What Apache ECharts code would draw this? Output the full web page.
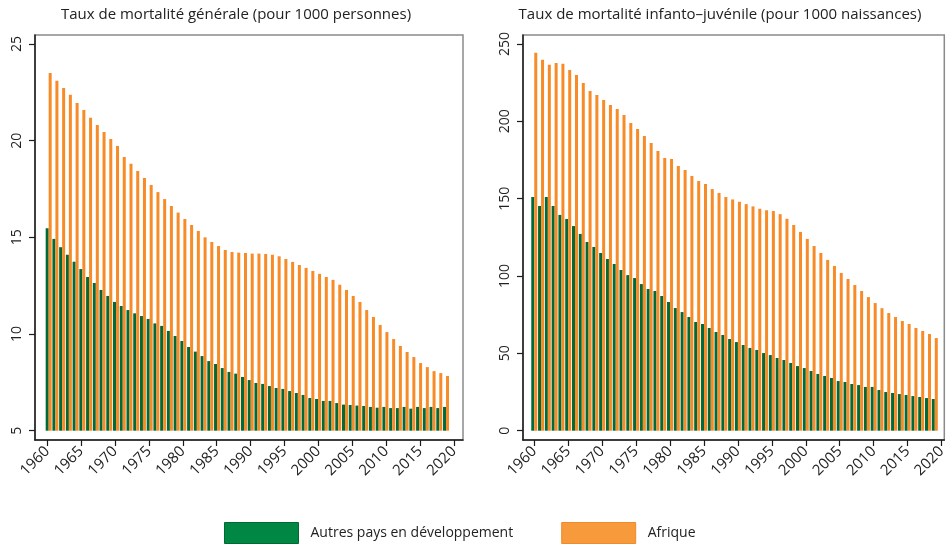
<!DOCTYPE html>
<html>
<head>
<meta charset="utf-8">
<script src="https://cdn.jsdelivr.net/npm/echarts@6/dist/echarts.min.js"></script>
<style>
  html, body { margin: 0; padding: 0; background: #fff; }
  #chart { width: 949px; height: 544px; }
</style>
</head>
<body>
<div id="chart"></div>
<script>
// années 1960-2019
var years = [1960,1961,1962,1963,1964,1965,1966,1967,1968,1969,
             1970,1971,1972,1973,1974,1975,1976,1977,1978,1979,
             1980,1981,1982,1983,1984,1985,1986,1987,1988,1989,
             1990,1991,1992,1993,1994,1995,1996,1997,1998,1999,
             2000,2001,2002,2003,2004,2005,2006,2007,2008,2009,
             2010,2011,2012,2013,2014,2015,2016,2017,2018,2019];
var yearTicks = [1960,1965,1970,1975,1980,1985,1990,1995,2000,2005,2010,2015,2020];
var ticksGen = [5,10,15,20,25];
var ticksInf = [0,50,100,150,200,250];

// Taux de mortalité générale (pour 1000 personnes)
var genAutres = [15.47,14.92,14.49,14.1,13.74,13.36,12.95,12.64,12.28,11.97,
                 11.66,11.45,11.24,11.07,10.93,10.78,10.55,10.42,10.16,9.9,
                 9.64,9.33,9.09,8.86,8.6,8.45,8.24,8.04,7.95,7.78,
                 7.62,7.47,7.42,7.31,7.21,7.16,7.05,6.95,6.85,6.69,
                 6.64,6.54,6.54,6.43,6.35,6.33,6.3,6.28,6.23,6.19,
                 6.23,6.17,6.17,6.23,6.14,6.23,6.17,6.23,6.17,6.23];
var genAfrique = [23.5,23.1,22.73,22.37,21.95,21.59,21.18,20.81,20.45,20.09,
                  19.73,19.16,18.8,18.43,18.07,17.71,17.34,16.98,16.62,16.28,
                  15.95,15.64,15.33,15.0,14.76,14.55,14.35,14.24,14.21,14.19,
                  14.16,14.16,14.14,14.1,14.02,13.88,13.73,13.57,13.42,13.26,
                  13.11,12.95,12.8,12.55,12.28,11.97,11.66,11.24,10.88,10.47,
                  10.1,9.74,9.38,9.07,8.81,8.5,8.29,8.08,7.98,7.83];

// Taux de mortalité infanto-juvénile (pour 1000 naissances)
var infAutres = [151.1,145.3,151.1,145.3,139.5,136.9,132.3,127.2,122.0,118.8,
                 114.9,111.0,107.8,103.9,100.6,98.7,94.8,91.6,90.3,87.1,
                 83.2,79.3,76.7,73.5,70.3,69.0,66.4,63.8,61.9,59.3,
                 57.3,55.4,53.5,52.2,50.2,48.9,47.0,45.7,43.8,41.8,
                 40.5,38.6,36.7,35.4,34.1,32.1,31.5,30.2,29.5,28.3,
                 28.3,26.3,25.0,24.4,23.7,23.1,22.4,21.8,21.1,20.5];
var infAfrique = [244.4,239.9,236.6,237.7,237.3,233.2,230.0,224.8,219.6,217.0,
                  213.8,210.6,208.0,204.1,198.9,195.0,190.5,186.0,180.8,176.3,
                  175.7,171.1,168.5,164.7,161.4,159.5,156.2,153.7,151.1,149.5,
                  148,146.5,145,143.5,142.5,142,140,137,133,128.5,
                  124,119.4,114.9,110.4,106.5,102.0,98.1,94.2,90.3,86.4,
                  82.5,79.2,76.1,73.5,70.9,69.0,66.4,64.5,62.5,59.9];

var NOM_AUTRES = 'Autres pays en développement';
var NOM_AFRIQUE = 'Afrique';
var VERT = '#006b38';
var ORANGE = '#f78b28';
var FONT = '"Open Sans", "Noto Sans", sans-serif';
var TXT = '#222';

function pairs(vals) {
    return years.map(function (y, i) { return [y, vals[i]]; });
}
function fmt(v) { return String(v); }

function frameX(grid, min, max) {
    return {
        type: 'value', gridIndex: grid, min: min, max: max,
        splitLine: {show: false},
        axisLine: {show: true, onZero: false, lineStyle: {color: '#1a1a1a', width: 1.5}},
        axisTick: {show: true, customValues: yearTicks, length: 6, lineStyle: {color: '#1a1a1a', width: 1.2}},
        axisLabel: {customValues: yearTicks, formatter: fmt, rotate: 45, margin: 9,
                    fontSize: 15, fontFamily: FONT, color: TXT}
    };
}
function frameY(grid, min, max, ticks) {
    return {
        type: 'value', gridIndex: grid, min: min, max: max,
        splitLine: {show: false},
        axisLine: {show: true, onZero: false, lineStyle: {color: '#1a1a1a', width: 1.5}},
        axisTick: {show: true, customValues: ticks, length: 6, lineStyle: {color: '#1a1a1a', width: 1.2}},
        axisLabel: {customValues: ticks, formatter: fmt, rotate: 90, margin: 11,
                    fontSize: 14, fontFamily: FONT, color: TXT}
    };
}
function barSerie(name, color, vals, axis) {
    return {
        type: 'bar', name: name, xAxisIndex: axis, yAxisIndex: axis,
        data: pairs(vals), barWidth: 3, barGap: '0%',
        itemStyle: {color: color}, emphasis: {disabled: true}
    };
}

var chart = echarts.init(document.getElementById('chart'));
chart.setOption({
    animation: false,
    grid: [
        {left: 35, width: 428, top: 35, height: 405, show: true, borderColor: '#8a8a8a', borderWidth: 1.5},
        {left: 35, width: 428, top: 35, height: 395.7},
        {left: 523, width: 422.5, top: 35, height: 405, show: true, borderColor: '#8a8a8a', borderWidth: 1.5}
    ],
    xAxis: [
        frameX(0, 1958.19, 2021.33),
        {type: 'value', gridIndex: 1, min: 1957.97, max: 2021.52, show: false},
        frameX(2, 1958.34, 2020.40)
    ],
    yAxis: [
        frameY(0, 4.52, 25.465, ticksGen),
        {type: 'value', gridIndex: 1, min: 5, max: 25.465, show: false},
        frameY(2, -6.01, 255.82, ticksInf)
    ],
    legend: {
        left: 224, top: 522, padding: 0, icon: 'rect', itemWidth: 74, itemHeight: 21, itemGap: 48,
        textStyle: {fontSize: 14, fontFamily: FONT, color: TXT, padding: [0, 0, 0, 7]},
        data: [
            {name: NOM_AUTRES, itemStyle: {color: '#008744', borderColor: '#006a33', borderWidth: 1}},
            {name: NOM_AFRIQUE, itemStyle: {color: '#f79a3c', borderColor: '#f08a2a', borderWidth: 1}}
        ]
    },
    graphic: [
        {type: 'text', x: 236, y: 15, style: {text: 'Taux de mortalité générale (pour 1000 personnes)',
            align: 'center', verticalAlign: 'middle', fontSize: 15, fontFamily: FONT, fill: TXT}},
        {type: 'text', x: 720, y: 15, style: {text: 'Taux de mortalité infanto\u2013juvénile (pour 1000 naissances)',
            align: 'center', verticalAlign: 'middle', fontSize: 15, fontFamily: FONT, fill: TXT}}
    ],
    series: [
        barSerie(NOM_AUTRES, VERT, genAutres, 1),
        barSerie(NOM_AFRIQUE, ORANGE, genAfrique, 1),
        barSerie(NOM_AUTRES, VERT, infAutres, 2),
        barSerie(NOM_AFRIQUE, ORANGE, infAfrique, 2)
    ]
});
</script>
</body>
</html>
